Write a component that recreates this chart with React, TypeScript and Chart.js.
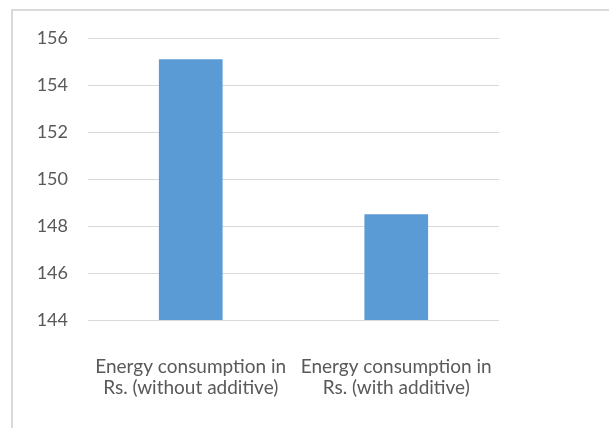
import React, { useEffect, useRef } from "react";
import { Chart, registerables } from "chart.js";

Chart.register(...registerables);

const categories: string[][] = [
  ["Energy consumption in", "Rs. (without additive)"],
  ["Energy consumption in", "Rs. (with additive)"],
];
const values: number[] = [155.1, 148.5];
const yMin = 144;
const yMax = 156;
const yStep = 2;

export default function App() {
  const ref = useRef<HTMLCanvasElement | null>(null);
  useEffect(() => {
    if (!ref.current) return;
    const family = "Lato, 'Open Sans', sans-serif";
    const chart = new Chart(ref.current, {
      type: "bar",
      data: {
        labels: categories,
        datasets: [
          {
            data: values,
            backgroundColor: "#5b9bd5",
            categoryPercentage: 1,
            barPercentage: 0.31,
          },
        ],
      },
      options: {
        animation: false,
        responsive: false,
        maintainAspectRatio: false,
        layout: { padding: { top: 38, right: 110, bottom: 0, left: 0 } },
        plugins: { legend: { display: false }, tooltip: { enabled: false } },
        scales: {
          x: {
            grid: { display: false },
            border: { display: false },
            ticks: {
              color: "#595959",
              font: { family, size: 19, lineHeight: 1.12 },
              padding: 28,
              maxRotation: 0,
              autoSkip: false,
            },
            afterFit: (s: any) => {
              s.height = 108;
            },
          },
          y: {
            min: yMin,
            max: yMax,
            grid: { color: "#d9d9d9", drawTicks: false, lineWidth: 1 },
            border: { display: false },
            ticks: { stepSize: yStep, color: "#595959", font: { family, size: 18 }, padding: 20 },
            afterFit: (s: any) => {
              s.width = 88;
            },
          },
        },
      },
    });
    return () => chart.destroy();
  }, []);
  return (
    <div style={{ position: "absolute", left: 0, top: 0, width: 609, height: 428, overflow: "hidden", background: "#fff" }}>
      <div
        style={{
          position: "absolute",
          left: 11,
          top: 9,
          width: 640,
          height: 480,
          border: "2px solid #d9d9d9",
          boxSizing: "border-box",
        }}
      />
      <canvas ref={ref} width={609} height={428} style={{ position: "absolute", left: 0, top: 0 }} />
    </div>
  );
}
